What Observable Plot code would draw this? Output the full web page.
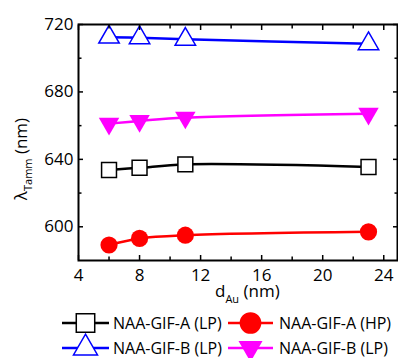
<!DOCTYPE html>
<html><head><meta charset="utf-8">
<script src="https://cdn.jsdelivr.net/npm/d3@7"></script>
<script src="https://cdn.jsdelivr.net/npm/@observablehq/plot@0.6"></script>
<style>
body{margin:0;background:#fff;font-family:"Open Sans",sans-serif;}
#chart svg{display:block;}
</style>
</head><body><div id="chart"></div>
<script>
// ---- data ----
const dAu = [6, 8, 11, 23];
const seriesNames = ["NAA-GIF-A (LP)", "NAA-GIF-A (HP)", "NAA-GIF-B (LP)", "NAA-GIF-B (LP)"];
const gifA_LP = [633.7, 635.0, 637.0, 635.5];
const gifA_HP = [589.2, 593.1, 595.0, 597.0];
const gifB_LP = [712.5, 712.1, 711.2, 708.6];
const gifB_LP2 = [661.2, 662.8, 664.8, 667.1];
const xMajor = [4, 8, 12, 16, 20, 24];
const xMinor = [6, 10, 14, 18, 22];
const yMajor = [600, 640, 680, 720];
const yMinor = [620, 660, 700];

const series = [
  {name: seriesNames[0], values: gifA_LP, color: "#000000", symbol: "square", r: 8.4, fill: "white", stroke: "#000000", rotate: 0, lg: {sym: d3.symbolSquare, size: 340, rot: 0}},
  {name: seriesNames[1], values: gifA_HP, color: "#ff0000", symbol: "circle", r: 8.6, fill: "#ff0000", stroke: "none", rotate: 0, lg: {sym: d3.symbolCircle, size: 370, rot: 0}},
  {name: seriesNames[2], values: gifB_LP, color: "#0000ff", symbol: "triangle", r: 7.6, fill: "white", stroke: "#0000ff", rotate: 0, lg: {sym: d3.symbolTriangle, size: 250, rot: 0}},
  {name: seriesNames[3], values: gifB_LP2, color: "#ff00ff", symbol: "triangle", r: 7.6, fill: "#ff00ff", stroke: "none", rotate: 180, lg: {sym: d3.symbolTriangle, size: 250, rot: 180}}
];

const tickOpts = {stroke: "black", strokeWidth: 1.5, tickFormat: () => "", label: null};

const plot = Plot.plot({
  width: 398,
  height: 306,
  marginLeft: 78,
  marginRight: 1,
  marginTop: 24,
  marginBottom: 46,
  style: {fontFamily: "Open Sans", fontSize: "17px", color: "black", background: "white"},
  x: {domain: [4, 24.9]},
  y: {domain: [580, 720]},
  marks: [
    ...series.map(s => Plot.line(dAu.map((x, j) => ({x, y: s.values[j]})), {
      x: "x", y: "y", stroke: s.color, strokeWidth: 2.5, curve: "catmull-rom"
    })),
    ...series.map(s => Plot.dot(dAu.map((x, j) => ({x, y: s.values[j]})), {
      x: "x", y: "y", symbol: s.symbol, r: s.r, fill: s.fill, stroke: s.stroke, strokeWidth: 1.5, rotate: s.rotate
    })),
    Plot.axisX({anchor: "bottom", ticks: xMajor, tickSize: 0, tickPadding: 8, label: null, fontSize: 17}),
    Plot.axisY({anchor: "left", ticks: yMajor, tickSize: 0, tickPadding: 5, label: null, fontSize: 17}),
    Plot.axisX({anchor: "bottom", ticks: xMajor, tickSize: -5, ...tickOpts}),
    Plot.axisX({anchor: "bottom", ticks: xMinor, tickSize: -3.5, ...tickOpts}),
    Plot.axisX({anchor: "top", ticks: xMajor, tickSize: -5, ...tickOpts}),
    Plot.axisX({anchor: "top", ticks: xMinor, tickSize: -3.5, ...tickOpts}),
    Plot.axisY({anchor: "left", ticks: yMajor, tickSize: -5, ...tickOpts}),
    Plot.axisY({anchor: "left", ticks: yMinor, tickSize: -3.5, ...tickOpts}),
    Plot.axisY({anchor: "right", ticks: yMajor, tickSize: -5, ...tickOpts}),
    Plot.axisY({anchor: "right", ticks: yMinor, tickSize: -3.5, ...tickOpts}),
    Plot.frame({stroke: "black", strokeWidth: 2})
  ]
});
document.getElementById("chart").appendChild(plot);

// axis titles with subscripts
const svg = d3.select(plot);
const yl = svg.append("text")
  .attr("transform", "translate(27,159) rotate(-90)")
  .attr("text-anchor", "middle")
  .attr("font-family", "Open Sans").attr("font-size", 17).attr("fill", "black");
yl.append("tspan").text("λ");
yl.append("tspan").attr("font-size", 11).attr("dy", 5).text("Tamm");
yl.append("tspan").attr("dy", -5).text(" (nm)");

const xl = svg.append("text")
  .attr("x", 215).attr("y", 297)
  .attr("text-anchor", "start")
  .attr("font-family", "Open Sans").attr("font-size", 17).attr("fill", "black");
xl.append("tspan").text("d");
xl.append("tspan").attr("font-size", 11).attr("dy", 6).text("Au");
xl.append("tspan").attr("dy", -6).text(" (nm)");

// legend
const lg = d3.select("#chart").append("svg")
  .attr("width", 398).attr("height", 52)
  .style("display", "block").style("overflow", "visible");
const cols = [{x1: 62, x2: 109, tx: 113}, {x1: 228, x2: 273, tx: 279}];
const rowsY = [17, 42];
series.forEach((s, i) => {
  const c = cols[i % 2], y = rowsY[Math.floor(i / 2)];
  const g = lg.append("g");
  g.append("line").attr("x1", c.x1).attr("x2", c.x2).attr("y1", y).attr("y2", y)
    .attr("stroke", s.color).attr("stroke-width", 2.5);
  g.append("path")
    .attr("d", d3.symbol(s.lg.sym, s.lg.size)())
    .attr("transform", `translate(${(c.x1 + c.x2) / 2},${y}) rotate(${s.lg.rot})`)
    .attr("fill", s.fill).attr("stroke", s.stroke).attr("stroke-width", 1.5);
  g.append("text").attr("x", c.tx).attr("y", y).attr("dy", "0.36em")
    .attr("font-family", "Open Sans").attr("font-size", 16).attr("fill", "black")
    .text(s.name);
});
</script>
</body></html>
